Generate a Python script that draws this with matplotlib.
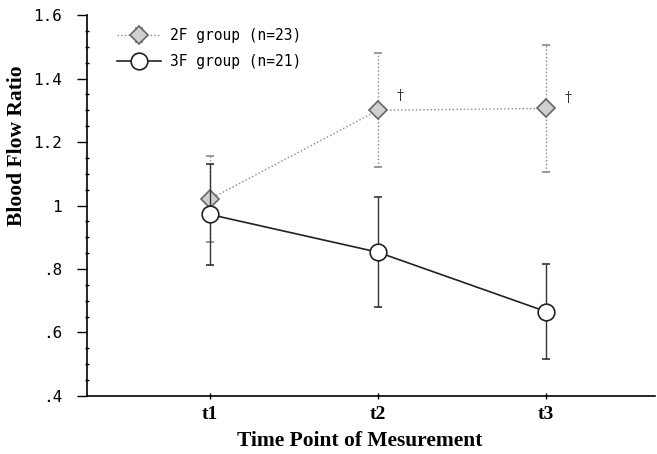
import matplotlib
matplotlib.use("Agg")
import matplotlib.pyplot as plt
from matplotlib.ticker import MultipleLocator, FixedLocator

time_labels = ["t1", "t2", "t3"]
x_pos = [1, 2, 3]
mean_2f = [1.02, 1.30, 1.306]
err_2f = [0.135, 0.18, 0.20]
mean_3f = [0.972, 0.853, 0.666]
err_3f = [0.16, 0.173, 0.15]
dagger_pos = [2, 3]
dagger_vals = [1.345, 1.338]
yticks = [0.4, 0.6, 0.8, 1.0, 1.2, 1.4, 1.6]
ytick_labels = [".4", ".6", ".8", "1", "1.2", "1.4", "1.6"]

fig = plt.figure(figsize=(6.57, 4.54), dpi=100)
ax = fig.add_axes([0.1324, 0.1278, 0.865, 0.839])

c2 = ax.errorbar(x_pos, mean_2f, yerr=err_2f, color="#888888", linestyle=":", linewidth=1.0,
                 marker="D", markersize=9, markerfacecolor="#d0d0d0", markeredgecolor="#666666",
                 markeredgewidth=1.2, ecolor="#888888", elinewidth=1.0, capsize=3,
                 label="2F group (n=23)", zorder=3)
for lc in c2[2]:
    lc.set_linestyle(":")
c3 = ax.errorbar(x_pos, mean_3f, yerr=err_3f, color="#222222", linestyle="-", linewidth=1.2,
                 marker="o", markersize=12, markerfacecolor="white", markeredgecolor="#222222",
                 markeredgewidth=1.2, ecolor="#333333", elinewidth=1.0, capsize=3,
                 label="3F group (n=21)", zorder=4)

for xp, yv in zip(dagger_pos, dagger_vals):
    ax.text(xp + 0.13, yv, "\u2020", fontsize=10, color="#333333", ha="center", va="center",
            family="DejaVu Serif")

ax.set_xlim(0.27, 3.65)
ax.set_ylim(0.4, 1.6)
ax.spines["top"].set_visible(False)
ax.spines["right"].set_visible(False)
ax.spines["left"].set_linewidth(1.2)
ax.spines["bottom"].set_linewidth(1.2)

ax.yaxis.set_major_locator(FixedLocator(yticks))
ax.set_yticklabels(ytick_labels, family="DejaVu Sans Mono", fontsize=11.5)
ax.yaxis.set_minor_locator(MultipleLocator(0.05))
ax.tick_params(axis="y", which="major", direction="out", length=7, width=1.0, pad=11)
ax.tick_params(axis="y", which="minor", direction="inout", length=3, width=1.0)

ax.set_xticks(x_pos)
ax.set_xticklabels(time_labels, family="Liberation Serif", fontweight="bold", fontsize=14)
ax.tick_params(axis="x", which="major", direction="inout", length=4, width=1.0, pad=5)

ax.set_xlabel("Time Point of Mesurement", family="Liberation Serif", fontweight="bold",
              fontsize=15.5)
ax.xaxis.set_label_coords(0.48, -0.092)
ax.set_ylabel("Blood Flow Ratio", family="Liberation Serif", fontweight="bold",
              fontsize=15.5)
ax.yaxis.set_label_coords(-0.105, 0.656)

leg = ax.legend(loc="upper left", bbox_to_anchor=(0.03, 1.0), frameon=False,
                prop={"family": "DejaVu Sans Mono", "size": 10.5}, handlelength=3,
                handletextpad=0.6, labelspacing=0.75)

fig.savefig("out.png", dpi=100)
